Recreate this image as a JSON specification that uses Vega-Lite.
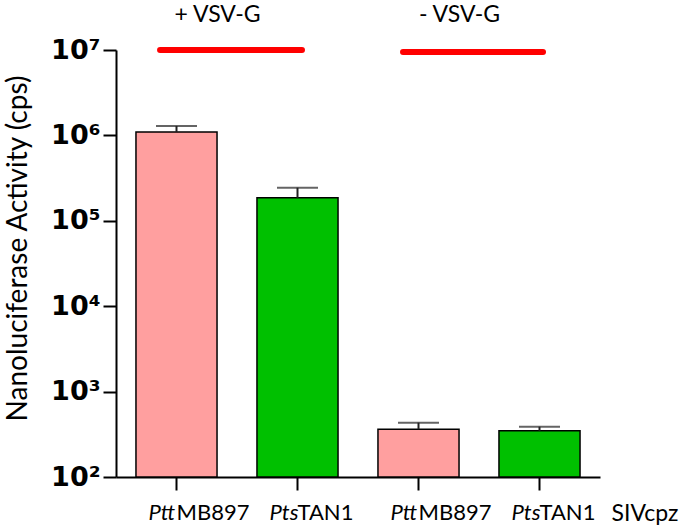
{
  "$schema": "https://vega.github.io/schema/vega-lite/v6.json",
  "width": 484,
  "height": 427,
  "autosize": "none",
  "padding": {"left": 116, "top": 50, "right": 88, "bottom": 50},
  "background": "#ffffff",
  "config": {
    "view": {"stroke": null},
    "axis": {"grid": false},
    "axisY": {
      "labelFont": "DejaVu Sans", "labelFontWeight": "bold", "labelFontSize": 27, "labelColor": "#000",
      "labelPadding": 3, "tickSize": 13, "tickWidth": 2, "tickColor": "#000",
      "domainColor": "#000", "domainWidth": 2,
      "titleFont": "Lato", "titleFontSize": 28, "titleFontWeight": "normal", "titleColor": "#000",
      "titleX": -90, "titleY": 198, "titleAngle": -90, "titleBaseline": "alphabetic", "titleAlign": "center"
    },
    "axisX": {
      "tickSize": 13, "tickWidth": 2, "tickColor": "#000", "domainColor": "#000", "domainWidth": 2,
      "titleFont": "Lato", "titleFontSize": 23, "titleFontWeight": "normal", "titleColor": "#000",
      "titleX": 495, "titleY": 43, "titleAlign": "left", "titleBaseline": "alphabetic"
    }
  },
  "datasets": {
    "bars": [
      {"id": "PttMB897 +VSV-G", "strain": "PttMB897", "pre": "Ptt", "suf": "MB897", "value": 1096000, "upper": 1290000},
      {"id": "PtsTAN1 +VSV-G", "strain": "PtsTAN1", "pre": "Pts", "suf": "TAN1", "value": 186000, "upper": 244000},
      {"id": "PttMB897 -VSV-G", "strain": "PttMB897", "pre": "Ptt", "suf": "MB897", "value": 362, "upper": 433},
      {"id": "PtsTAN1 -VSV-G", "strain": "PtsTAN1", "pre": "Pts", "suf": "TAN1", "value": 348, "upper": 388}
    ],
    "groups": [
      {"label": "+ VSV-G", "start": 0.364, "end": 1.537, "mid": 0.839, "y": 10000000},
      {"label": "- VSV-G", "start": 2.372, "end": 3.529, "mid": 2.839, "y": 9470000}
    ]
  },
  "layer": [
    {
      "data": {"name": "bars"},
      "encoding": {
        "x": {
          "field": "id", "type": "nominal", "sort": null, "title": "SIVcpz",
          "scale": {"paddingInner": 0.33, "paddingOuter": 0.165},
          "axis": {"labels": false, "title": "SIVcpz"}
        }
      },
      "layer": [
        {
          "mark": {"type": "bar", "stroke": "#000", "strokeWidth": 1.5},
          "encoding": {
            "y": {
              "field": "value", "type": "quantitative", "title": "Nanoluciferase Activity (cps)",
              "scale": {"type": "log", "domain": [100, 10000000]},
              "axis": {
                "values": [100, 1000, 10000, 100000, 1000000, 10000000],
                "labelExpr": "'10' + ['⁰','¹','²','³','⁴','⁵','⁶','⁷'][round(log(datum.value)/LN10)]",
                "title": "Nanoluciferase Activity (cps)"
              }
            },
            "y2": {"datum": 100},
            "color": {
              "field": "strain", "type": "nominal",
              "scale": {"domain": ["PttMB897", "PtsTAN1"], "range": ["#FF9F9F", "#00C000"]},
              "legend": null
            }
          }
        },
        {
          "mark": {"type": "rule", "color": "#222", "strokeWidth": 2},
          "encoding": {
            "y": {"field": "value", "type": "quantitative", "title": "Nanoluciferase Activity (cps)"},
            "y2": {"field": "upper"}
          }
        },
        {
          "mark": {"type": "tick", "color": "#222", "thickness": 2, "size": 41},
          "encoding": {
            "y": {"field": "upper", "type": "quantitative", "title": "Nanoluciferase Activity (cps)"}
          }
        },
        {
          "mark": {"type": "text", "font": "Lato", "fontStyle": "italic", "fontSize": 22, "align": "left", "baseline": "alphabetic", "dx": -28, "dy": 43, "color": "#000"},
          "encoding": {"y": {"datum": 100}, "text": {"field": "pre"}}
        },
        {
          "mark": {"type": "text", "font": "Lato", "fontSize": 22, "align": "left", "baseline": "alphabetic", "dx": 0, "dy": 43, "color": "#000"},
          "encoding": {"y": {"datum": 100}, "text": {"field": "suf"}}
        }
      ]
    },
    {
      "data": {"name": "groups"},
      "layer": [
        {
          "mark": {"type": "rule", "color": "#FF0000", "strokeWidth": 6, "strokeCap": "round"},
          "encoding": {
            "x": {"field": "start", "type": "quantitative", "scale": {"domain": [0, 4], "nice": false, "zero": false}, "axis": null},
            "x2": {"field": "end"},
            "y": {"field": "y", "type": "quantitative", "title": "Nanoluciferase Activity (cps)"}
          }
        },
        {
          "mark": {"type": "text", "font": "Lato", "fontSize": 23, "align": "center", "baseline": "alphabetic", "dy": -28, "color": "#000"},
          "encoding": {
            "x": {"field": "mid", "type": "quantitative", "scale": {"domain": [0, 4], "nice": false, "zero": false}, "axis": null},
            "y": {"datum": 10000000},
            "text": {"field": "label"}
          }
        }
      ]
    }
  ],
  "resolve": {"scale": {"x": "independent"}}
}
